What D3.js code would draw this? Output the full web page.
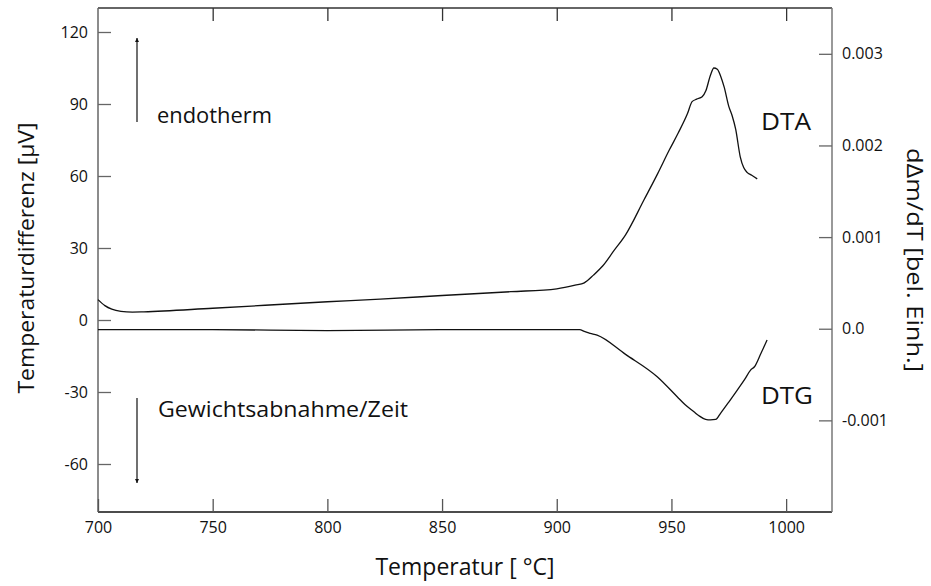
<!DOCTYPE html>
<html>
<head>
<meta charset="utf-8">
<script src="https://cdn.jsdelivr.net/npm/d3@7"></script>
<style>
  body { margin: 0; background: #fff; }
  text { font-family: "Open Sans", "Noto Sans", sans-serif; fill: #111; }
</style>
</head>
<body>
<svg id="chart" width="931" height="586"></svg>
<script>
// ---- data ----
var dtaTemp = [700, 703, 706, 710, 715, 720, 750, 800, 823, 850, 880, 900, 908, 912, 916, 920, 925, 930, 938, 944, 949, 953, 957, 959, 961, 963.4, 965, 967, 968.5, 970, 971.5, 973, 975, 976.5, 978, 980, 981.5, 983, 985, 987.4];
var dtaVal  = [8.5, 6, 4.5, 3.6, 3.3, 3.4, 4.9, 7.6, 8.7, 10.2, 11.8, 13.0, 14.5, 15.5, 18.7, 22.5, 29, 35.5, 50, 61, 70.7, 78, 86, 91, 92, 93, 95.5, 102, 105, 104.5, 101.5, 97, 89, 85, 79.5, 68, 63.5, 61.5, 60.3, 58.8];

var dtgTemp = [700, 750, 800, 850, 900, 910, 912, 914.6, 917.6, 930, 943.8, 952.5, 956, 959.8, 962, 964.9, 967, 969.3, 971.4, 975, 978.7, 982, 984.5, 986.2, 989, 991.7];
var dtgVal  = [-0.00001, -0.00001, -0.00002, -0.00001, -0.00001, -0.00001, -0.00003, -0.00005, -0.00007, -0.00028, -0.000524, -0.000742, -0.00083, -0.000906, -0.00095, -0.000989, -0.000995, -0.00099, -0.000923, -0.0008, -0.000669, -0.00055, -0.000451, -0.000415, -0.00027, -0.000123];

var xTicks = [700, 750, 800, 850, 900, 950, 1000];
var leftTicks = [-60, -30, 0, 30, 60, 90, 120];
var rightTicks = [-0.001, 0.0, 0.001, 0.002, 0.003];
var rightTickLabels = ["-0.001", "0.0", "0.001", "0.002", "0.003"];

var svg = d3.select("#chart");
var mLeft = 98, mRight = 832, mTop = 8, mBottom = 512;

var x = d3.scaleLinear().domain([700, 1020]).range([mLeft, mRight]);
var yL = d3.scaleLinear().domain([-80, 130]).range([mBottom, mTop]);
var yR = d3.scaleLinear().domain([-0.002, 0.0035]).range([mBottom, mTop]);

var tickLen = 13;

// frame
svg.append("line").attr("x1", mLeft).attr("x2", mRight).attr("y1", mTop).attr("y2", mTop).attr("stroke", "#333").attr("stroke-width", 1.5);
svg.append("line").attr("x1", mLeft).attr("x2", mRight).attr("y1", mBottom).attr("y2", mBottom).attr("stroke", "#111").attr("stroke-width", 1.5);
svg.append("line").attr("x1", mLeft).attr("x2", mLeft).attr("y1", mTop).attr("y2", mBottom).attr("stroke", "#666").attr("stroke-width", 1.5);
svg.append("line").attr("x1", mRight).attr("x2", mRight).attr("y1", mTop).attr("y2", mBottom).attr("stroke", "#777").attr("stroke-width", 1.5);

// bottom axis (ticks inward)
var xAxis = d3.axisBottom(x).tickValues(xTicks).tickSizeInner(-tickLen).tickSizeOuter(0).tickPadding(10).tickFormat(function(d) { return String(d); });
var gx = svg.append("g").attr("transform", "translate(0," + mBottom + ")").call(xAxis);
gx.select(".domain").remove();
gx.selectAll(".tick line").attr("stroke", "#555").attr("stroke-width", 1.3);
gx.selectAll(".tick text").attr("font-size", 16).style("font-family", "Open Sans, sans-serif");

// top ticks
var gxt = svg.append("g").attr("transform", "translate(0," + mTop + ")")
  .call(d3.axisTop(x).tickValues(xTicks.slice(1)).tickSizeInner(-tickLen).tickSizeOuter(0).tickFormat(""));
gxt.select(".domain").remove();
gxt.selectAll(".tick line").attr("stroke", "#333").attr("stroke-width", 1.3);

// left axis
var gl = svg.append("g").attr("transform", "translate(" + mLeft + ",0)")
  .call(d3.axisLeft(yL).tickValues(leftTicks).tickSizeInner(-tickLen).tickSizeOuter(0).tickPadding(10)
    .tickFormat(function(d) { return String(d); }));
gl.select(".domain").remove();
gl.selectAll(".tick line").attr("stroke", "#666").attr("stroke-width", 1.3);
gl.selectAll(".tick text").attr("font-size", 16).style("font-family", "Open Sans, sans-serif");

// right axis
var gr = svg.append("g").attr("transform", "translate(" + mRight + ",0)")
  .call(d3.axisRight(yR).tickValues(rightTicks).tickSizeInner(-tickLen).tickSizeOuter(0).tickPadding(10)
    .tickFormat(function(d, i) { return rightTickLabels[i]; }));
gr.select(".domain").remove();
gr.selectAll(".tick line").attr("stroke", "#666").attr("stroke-width", 1.3);
gr.selectAll(".tick text").attr("font-size", 16).style("font-family", "Open Sans, sans-serif");

// curves
var dtaLine = d3.line().x(function(d, i) { return x(dtaTemp[i]); }).y(function(d) { return yL(d); }).curve(d3.curveMonotoneX);
var dtgLine = d3.line().x(function(d, i) { return x(dtgTemp[i]); }).y(function(d) { return yR(d); }).curve(d3.curveMonotoneX);

svg.append("path").datum(dtaVal).attr("d", dtaLine).attr("fill", "none").attr("stroke", "#111").attr("stroke-width", 1.3);
svg.append("path").datum(dtgVal).attr("d", dtgLine).attr("fill", "none").attr("stroke", "#111").attr("stroke-width", 1.3);

// arrows
var defs = svg.append("defs");
defs.append("marker").attr("id", "arr").attr("viewBox", "0 0 10 10").attr("refX", 10).attr("refY", 5)
  .attr("markerWidth", 10).attr("markerHeight", 4).attr("markerUnits", "userSpaceOnUse").attr("orient", "auto")
  .append("path").attr("d", "M0,0 L10,5 L0,10 Z").attr("fill", "#111");

svg.append("line").attr("x1", 137).attr("x2", 137).attr("y1", 122).attr("y2", 38)
  .attr("stroke", "#111").attr("stroke-width", 1.2).attr("marker-end", "url(#arr)");
svg.append("line").attr("x1", 137).attr("x2", 137).attr("y1", 398).attr("y2", 483)
  .attr("stroke", "#111").attr("stroke-width", 1.2).attr("marker-end", "url(#arr)");

// annotations
function label(px, py, size, len, str) {
  return svg.append("text").attr("x", px).attr("y", py).attr("font-size", size)
    .attr("textLength", len).attr("lengthAdjust", "spacingAndGlyphs").text(str);
}
label(157, 123, 22, 115, "endotherm");
label(158, 417, 22, 250, "Gewichtsabnahme/Zeit");
label(761, 130, 23, 50, "DTA");
label(761, 404, 23, 52, "DTG");

// axis titles
svg.append("text").attr("x", 465).attr("y", 575).attr("text-anchor", "middle").attr("font-size", 23)
  .text("Temperatur [ \u00B0C]");
svg.append("text").attr("transform", "translate(34,258) rotate(-90)").attr("text-anchor", "middle").attr("font-size", 22)
  .attr("textLength", 271).attr("lengthAdjust", "spacingAndGlyphs")
  .text("Temperaturdifferenz [\u03BCV]");
svg.append("text").attr("transform", "translate(907,260) rotate(90)").attr("text-anchor", "middle").attr("font-size", 21)
  .attr("textLength", 224).attr("lengthAdjust", "spacingAndGlyphs")
  .text("d\u0394m/dT [bel. Einh.]");
</script>
</body>
</html>
